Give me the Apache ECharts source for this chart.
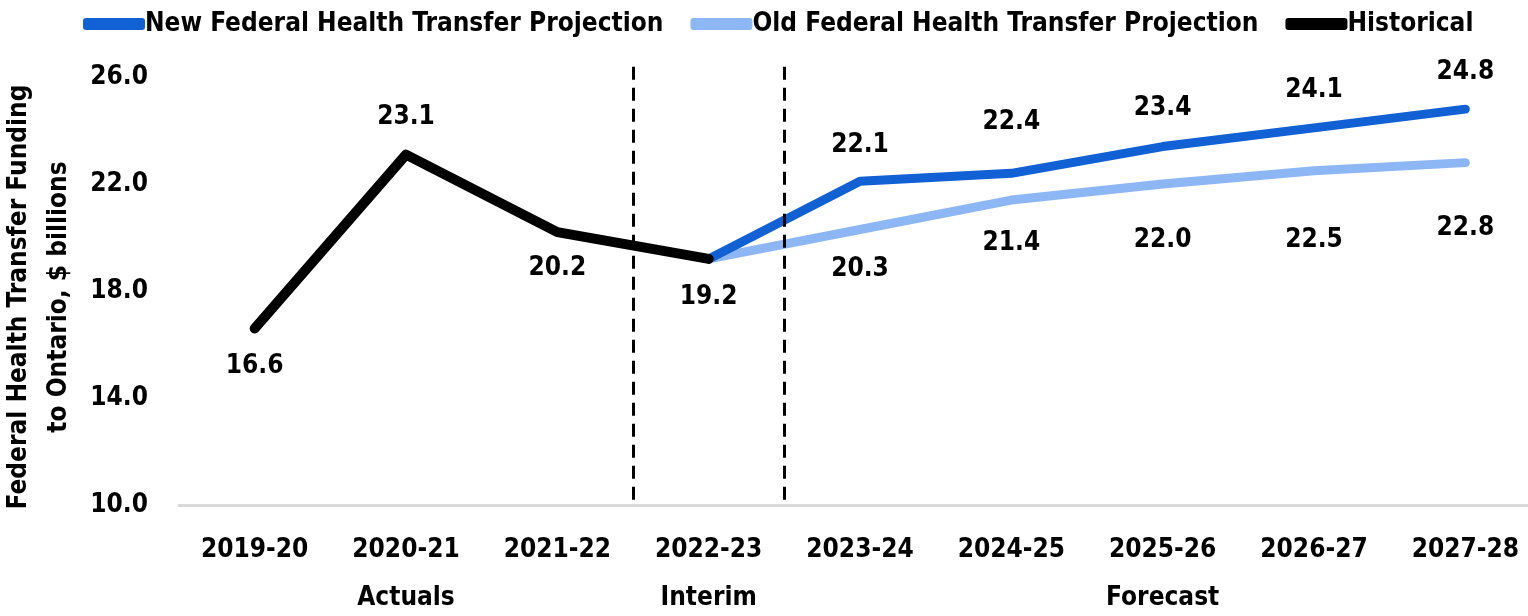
<!DOCTYPE html>
<html>
<head>
<meta charset="utf-8">
<script src="https://cdn.jsdelivr.net/npm/echarts@6/dist/echarts.min.js"></script>
<style>
html,body{margin:0;padding:0;background:#fff;}
#chart{width:1528px;height:616px;}
</style>
</head>
<body>
<div id="chart"></div>
<script>
// data
var categories = ['2019-20', '2020-21', '2021-22', '2022-23', '2023-24', '2024-25', '2025-26', '2026-27', '2027-28'];
var periodLabels = ['', 'Actuals', '', 'Interim', '', '', 'Forecast', '', ''];
var historical = [16.6, 23.1, 20.2, 19.2, null, null, null, null, null];
var newProjection = [null, null, null, 19.2, 22.1, 22.4, 23.4, 24.1, 24.8];
var oldProjection = [null, null, null, 19.2, 20.3, 21.4, 22.0, 22.5, 22.8];
var periodBreaks = [2.5, 3.5];
var yMin = 10, yMax = 26, yStep = 4;

var FONT = "'Liberation Sans Narrow', 'Arial Narrow', 'DejaVu Sans Condensed', sans-serif";

// label placement (matches the hand-placed labels of the original)
var histPos = ['bottom', 'top', 'bottom', 'bottom'];
var histDist = [24, 24, 23, 25];
var newDist = [0, 0, 0, 0, 23, 38, 25, 24, 23];
var oldDist = [0, 0, 0, 0, 26, 30, 43, 56, 52];

var extend = function(a, b){ for(var k in b){ a[k] = b[k]; } return a; };
var labelStyle = {fontFamily: FONT, fontWeight: 'bold', fontSize: 26, color: '#000',
	formatter: function(p){ return Number(p.value).toFixed(1); }};

//构造带标签的数据
var buildData = function(values, pos, dist, firstLabel){
	return values.map(function(v, i){
		if(v == null) return null;
		var p = typeof pos == 'string' ? pos : pos[i];
		return {
			value: v,
			label: extend({show: i >= firstLabel, position: p, distance: dist[i]}, labelStyle)
		};
	});
};

var lineSeries = function(name, color, width, data, z){
	return {
		name: name,
		type: 'line',
		data: data,
		z: z,
		symbol: 'circle',
		symbolSize: 1,
		itemStyle: {color: color},
		lineStyle: {color: color, width: width, cap: 'round', join: 'round'},
		emphasis: {disabled: true},
		animation: false
	};
};

var chart = echarts.init(document.getElementById('chart'));

var option = {
	backgroundColor: '#fff',
	textStyle: {fontFamily: FONT},
	legend: {
		top: 6,
		left: 78,
		itemWidth: 62,
		itemHeight: 12,
		itemGap: 27,
		icon: 'roundRect',
		textStyle: {fontFamily: FONT, fontWeight: 'bold', fontSize: 26, color: '#000', padding: [0, 0, 0, -5]},
		data: [
			{name: 'New Federal Health Transfer Projection', itemStyle: {color: '#1160D4'}},
			{name: 'Old Federal Health Transfer Projection', itemStyle: {color: '#8DB6F4'}},
			{name: 'Historical', itemStyle: {color: '#000'}}
		]
	},
	// top of grid sits a little above 26.0 so the dashed separators can reach above it
	grid: {left: 179, right: -13, top: 65, bottom: 111, containLabel: false, outerBoundsMode: 'none'},
	xAxis: [{
		type: 'category',
		data: categories,
		boundaryGap: true,
		axisLine: {lineStyle: {color: '#D9D9D9', width: 3}},
		axisTick: {show: false},
		axisLabel: {fontFamily: FONT, fontWeight: 'bold', fontSize: 26, color: '#000', margin: 32, interval: 0}
	}, {
		type: 'category',
		position: 'bottom',
		offset: 80,
		data: periodLabels,
		boundaryGap: true,
		axisLine: {show: false},
		axisTick: {show: false},
		axisLabel: {fontFamily: FONT, fontWeight: 'bold', fontSize: 26, color: '#000', margin: 0, interval: 0}
	}, {
		type: 'value',
		min: -0.5,
		max: 8.5,
		show: false
	}],
	yAxis: {
		type: 'value',
		min: yMin,
		max: yMax + 0.45,
		interval: yStep,
		name: 'Federal Health Transfer Funding\nto Ontario, $ billions',
		nameLocation: 'middle',
		nameGap: 100,
		nameTextStyle: {fontFamily: FONT, fontWeight: 'bold', fontSize: 26, color: '#000', lineHeight: 40,
			padding: [0, 24, 0, 0]},
		axisLine: {show: false},
		axisTick: {show: false},
		splitLine: {show: false},
		axisLabel: {fontFamily: FONT, fontWeight: 'bold', fontSize: 26, color: '#000', margin: 31,
			showMaxLabel: false,
			formatter: function(v){ return v.toFixed(1); }}
	},
	series: [
		lineSeries('New Federal Health Transfer Projection', '#1160D4', 9, buildData(newProjection, 'top', newDist, 4), 3),
		lineSeries('Old Federal Health Transfer Projection', '#8DB6F4', 9, buildData(oldProjection, 'bottom', oldDist, 4), 2),
		lineSeries('Historical', '#000', 10, buildData(historical, histPos, histDist, 0), 4),
		{
			name: 'breaks',
			type: 'line',
			xAxisIndex: 2,
			data: [],
			silent: true,
			animation: false,
			markLine: {
				silent: true,
				symbol: ['none', 'none'],
				label: {show: false},
				lineStyle: {color: '#000', type: [13, 8], width: 3},
				data: periodBreaks.map(function(x){
					return [{coord: [x, yMin + 0.2]}, {coord: [x, yMax + 0.45]}];
				})
			}
		}
	]
};

chart.setOption(option);
</script>
</body>
</html>
